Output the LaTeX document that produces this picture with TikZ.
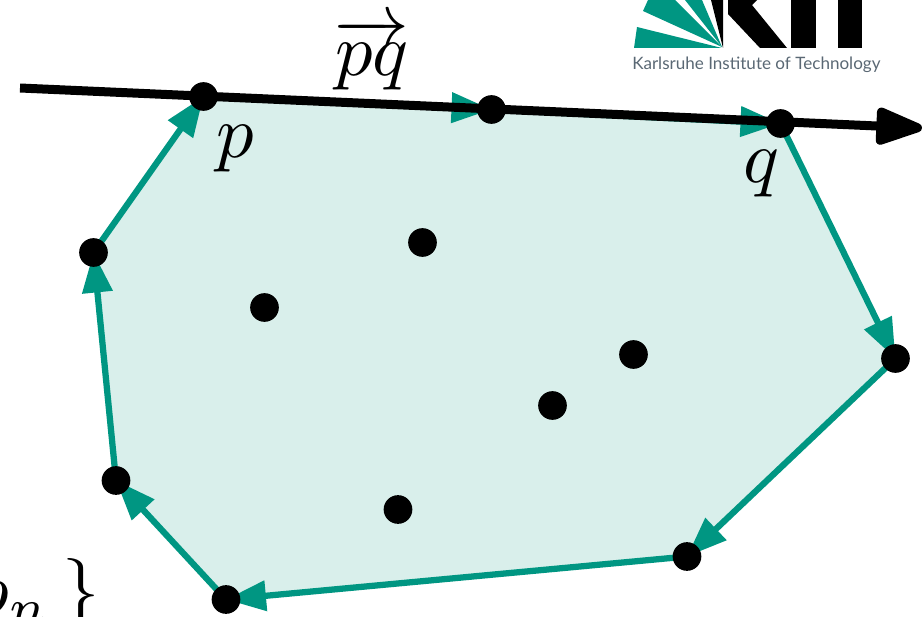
\documentclass[tikz,border=0pt]{standalone}
\usepackage{fontspec}
\setsansfont{Lato}
\usetikzlibrary{arrows.meta,backgrounds}
\definecolor{kit}{HTML}{009682}
\definecolor{kitlight}{HTML}{D9EFEB}
\definecolor{logotext}{HTML}{5A6874}
\tikzset{
  dot/.style={circle,fill=black,inner sep=0pt,minimum size=21.5pt},
  hull/.style={draw=kit,line width=4.7pt,-{Triangle[length=30pt,width=22pt]}},
  lab/.style={inner sep=0pt,scale=5.6},
  axis/.style={draw=black,line width=6.75pt,-{Triangle[length=41pt,width=29pt,round]}}
}
\begin{document}
\begin{tikzpicture}[x=0.75pt,y=-0.75pt]
\useasboundingbox (0,0) rectangle (922,617);
\clip (0,0) rectangle (922,617);
\node[dot] (p) at (203.5,96.5) {};
\node[dot] (m) at (491.5,109.5) {};
\node[dot] (q) at (780.5,123.5) {};
\node[dot] (a) at (895.5,358.5) {};
\node[dot] (b) at (687,556.5) {};
\node[dot] (c) at (226,599.5) {};
\node[dot] (d) at (116,480.5) {};
\node[dot] (e) at (93.5,252.5) {};
\node[dot] (i1) at (422.5,242.5) {};
\node[dot] (i2) at (264.5,307.5) {};
\node[dot] (i3) at (633.5,354.5) {};
\node[dot] (i4) at (552.5,405.5) {};
\node[dot] (i5) at (398,509.5) {};
\coordinate (s) at (20,88);
\coordinate (t) at (922,128);
\begin{scope}[on background layer]
\fill[kitlight] (p.center)--(m.center)--(q.center)--(a.center)--(b.center)--(c.center)--(d.center)--(e.center)--cycle;
\draw[hull] (p.center)--(m.center);
\draw[hull] (m.center)--(q.center);
\draw[hull] (q.center)--(a.center);
\draw[hull] (a.center)--(b.center);
\draw[hull] (b.center)--(c.center);
\draw[hull] (c.center)--(d.center);
\draw[hull] (d.center)--(e.center);
\draw[hull] (e.center)--(p.center);
\draw[axis] (s)--(t);
\end{scope}
\node[lab] (lp) at (235,149) {$p$};
\node[lab] (lq) at (761,174) {$q$};
\node[lab,anchor=base] (lpq) at (372,75.5) {$\overrightarrow{\rule{0pt}{5pt}pq}$};
\node[lab,anchor=base east] (lset) at (101,614) {$p_n\,\}$};
% logo
\fill[kit] (722,48)--(634,48)--(637,27)--cycle;
\fill[kit] (722,47)--(643,11)--(648,0)--(675,0)--cycle;
\fill[kit] (722,47)--(685,0)--(702,0)--cycle;
\fill[black] (723,48)--(711,0)--(723,0)--cycle;
\fill[black] (728,14)--(760,48)--(787,48)--(752,5)--(757,0)--(728,0)--cycle;
\fill[black] (791,0) rectangle (816,48);
\fill[black] (838,0) rectangle (862,48);
\node[inner sep=0pt,text=logotext,anchor=base west] (logo) at (632,70) {\sffamily\fontsize{12.8}{15}\selectfont Karlsruhe Institute of Technology};
\end{tikzpicture}
\end{document}
